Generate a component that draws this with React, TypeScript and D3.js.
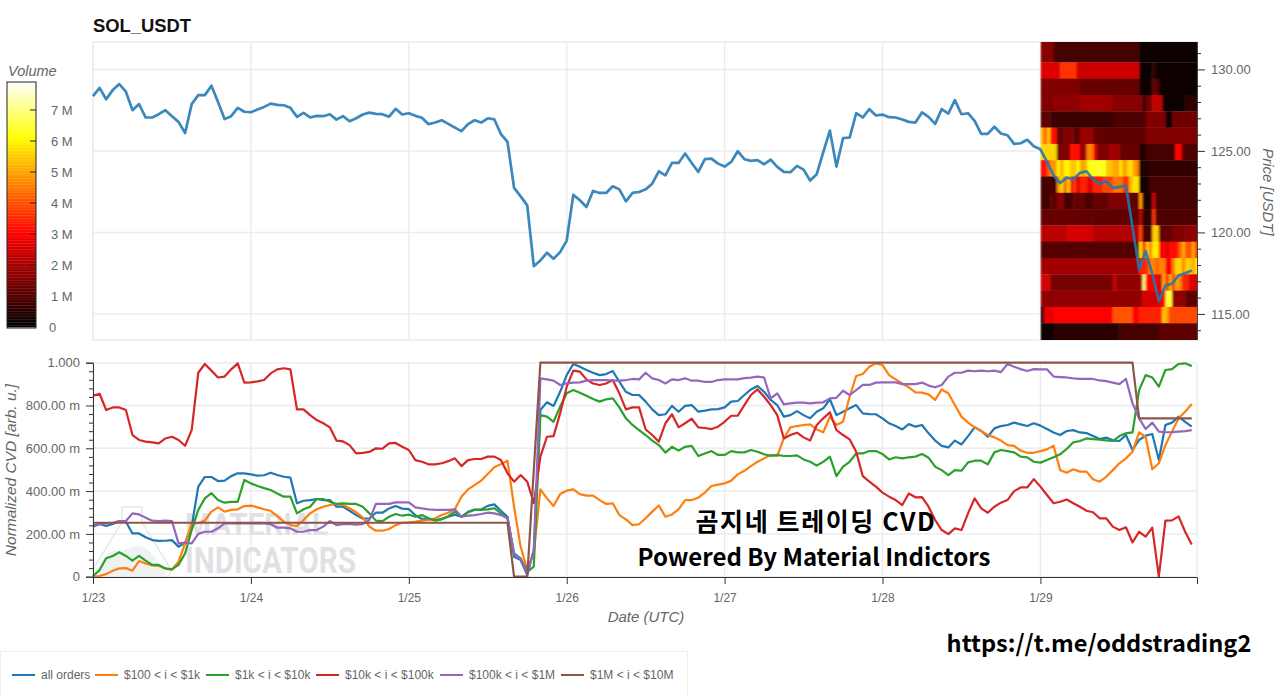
import { useEffect, useRef } from "react";
import * as d3 from "d3";

const FONT = "'Liberation Sans', Arial, sans-serif";
const KR_FONT = "'Noto Sans CJK KR', 'Noto Sans', sans-serif";

const dayLabels = ["1/23", "1/24", "1/25", "1/26", "1/27", "1/28", "1/29"];
const dayHours = [0, 24, 48, 72, 96, 120, 144];

// hourly close, one line per day
const price = [
  128.36, 128.87, 128.17, 128.73, 129.1, 128.63, 127.5, 127.87, 127.05, 127.05, 127.25, 127.5, 127.13, 126.78, 126.1, 127.87, 128.42, 128.42, 129.0, 128.0, 126.95, 127.13, 127.64, 127.4,
  127.37, 127.54, 127.7, 127.9, 127.82, 127.8, 127.64, 127.09, 127.33, 127.05, 127.15, 127.13, 127.25, 126.92, 127.13, 126.82, 127, 127.23, 127.35, 127.27, 127.25, 127.1, 127.58, 127.23,
  127.31, 127.15, 127.03, 126.64, 126.74, 126.88, 126.66, 126.43, 126.21, 126.64, 126.88, 126.74, 127.0, 126.93, 126.03, 125.55, 122.73, 122.21, 121.66, 117.93, 118.28, 118.75, 118.38, 118.79,
  119.5, 122.3, 121.97, 121.56, 122.54, 122.42, 122.42, 122.83, 122.64, 121.9, 122.42, 122.48, 122.64, 122.99, 123.75, 123.5, 124.26, 124.26, 124.84, 124.26, 123.71, 124.49, 124.53, 124.22,
  124.04, 124.32, 124.98, 124.49, 124.39, 124.43, 124.18, 124.47, 124.02, 123.71, 123.69, 124.08, 123.85, 123.18, 123.57, 124.92, 126.25, 124.04, 125.78, 125.82, 127.31, 127.05, 127.56, 127.17,
  127.23, 127.07, 127.05, 126.93, 126.78, 126.74, 127.36, 127.09, 126.66, 127.56, 127.29, 128.11, 127.25, 127.31, 126.84, 126.04, 126.04, 126.48, 126.07, 125.96, 125.43, 125.47, 125.68, 125.29,
  125.1, 124.32, 123.5, 123.03, 123.36, 123.26, 123.65, 123.75, 123.24, 122.99, 123.15, 122.72, 122.79, 122.85, 120.33, 117.7, 118.85, 117.46, 115.78, 116.74, 116.85, 117.36, 117.5, 117.67,
];

const allOrders = [
  0.234, 0.246, 0.237, 0.246, 0.26, 0.257, 0.202, 0.202, 0.184, 0.171, 0.167, 0.168, 0.171, 0.14, 0.159, 0.234, 0.421, 0.466, 0.466, 0.447, 0.449, 0.47, 0.483, 0.483,
  0.478, 0.472, 0.474, 0.486, 0.475, 0.467, 0.463, 0.343, 0.355, 0.358, 0.363, 0.358, 0.358, 0.327, 0.327, 0.308, 0.288, 0.272, 0.272, 0.299, 0.299, 0.319, 0.33, 0.318,
  0.316, 0.287, 0.27, 0.27, 0.265, 0.27, 0.28, 0.29, 0.28, 0.303, 0.314, 0.314, 0.331, 0.338, 0.308, 0.28, 0.093, 0.078, 0.008, 0.125, 0.779, 0.815, 0.798, 0.864,
  0.942, 0.994, 0.981, 0.966, 0.953, 0.942, 0.947, 0.961, 0.911, 0.864, 0.849, 0.849, 0.818, 0.782, 0.755, 0.759, 0.798, 0.771, 0.798, 0.802, 0.771, 0.776, 0.782, 0.783,
  0.791, 0.818, 0.821, 0.849, 0.875, 0.891, 0.864, 0.826, 0.802, 0.748, 0.755, 0.774, 0.755, 0.74, 0.771, 0.787, 0.829, 0.755, 0.771, 0.787, 0.802, 0.763, 0.76, 0.759,
  0.74, 0.717, 0.704, 0.688, 0.713, 0.701, 0.709, 0.67, 0.636, 0.611, 0.604, 0.636, 0.618, 0.657, 0.698, 0.681, 0.654, 0.693, 0.704, 0.709, 0.72, 0.712, 0.704, 0.717,
  0.706, 0.69, 0.674, 0.662, 0.681, 0.685, 0.674, 0.671, 0.657, 0.643, 0.65, 0.637, 0.634, 0.662, 0.592, 0.639, 0.659, 0.667, 0.545, 0.709, 0.72, 0.748, 0.724, 0.701,
];

const from100 = [
  0, 0.003, 0.012, 0.028, 0.039, 0.04, 0.028, 0.073, 0.062, 0.053, 0.051, 0.037, 0.034, 0.07, 0.156, 0.249, 0.25, 0.262, 0.304, 0.324, 0.304, 0.312, 0.315, 0.33,
  0.332, 0.324, 0.315, 0.308, 0.283, 0.257, 0.241, 0.237, 0.265, 0.296, 0.315, 0.327, 0.335, 0.34, 0.335, 0.32, 0.301, 0.277, 0.234, 0.215, 0.215, 0.223, 0.241, 0.252,
  0.254, 0.257, 0.262, 0.265, 0.273, 0.288, 0.299, 0.315, 0.374, 0.408, 0.428, 0.449, 0.48, 0.511, 0.526, 0.542, 0.327, 0.14, 0.031, 0.109, 0.408, 0.366, 0.33, 0.386,
  0.402, 0.408, 0.386, 0.379, 0.379, 0.358, 0.34, 0.343, 0.288, 0.268, 0.241, 0.245, 0.273, 0.304, 0.333, 0.28, 0.291, 0.315, 0.358, 0.358, 0.369, 0.393, 0.424, 0.43,
  0.436, 0.449, 0.478, 0.495, 0.517, 0.537, 0.553, 0.569, 0.564, 0.646, 0.698, 0.704, 0.709, 0.712, 0.688, 0.675, 0.748, 0.709, 0.724, 0.841, 0.938, 0.947, 0.981, 0.997,
  0.989, 0.942, 0.922, 0.903, 0.885, 0.861, 0.86, 0.852, 0.826, 0.875, 0.857, 0.802, 0.748, 0.72, 0.698, 0.681, 0.662, 0.651, 0.636, 0.615, 0.611, 0.589, 0.579, 0.579,
  0.587, 0.595, 0.612, 0.498, 0.486, 0.502, 0.491, 0.491, 0.455, 0.444, 0.467, 0.498, 0.53, 0.553, 0.584, 0.674, 0.654, 0.502, 0.53, 0.615, 0.678, 0.74, 0.771, 0.807,
];

const from1k = [
  0.003, 0.031, 0.086, 0.097, 0.114, 0.097, 0.075, 0.097, 0.075, 0.055, 0.055, 0.039, 0.034, 0.055, 0.109, 0.218, 0.312, 0.366, 0.39, 0.358, 0.346, 0.35, 0.35, 0.452,
  0.436, 0.424, 0.414, 0.405, 0.389, 0.374, 0.374, 0.296, 0.315, 0.327, 0.363, 0.363, 0.35, 0.34, 0.343, 0.34, 0.34, 0.327, 0.296, 0.262, 0.26, 0.28, 0.293, 0.285,
  0.29, 0.28, 0.288, 0.273, 0.262, 0.268, 0.283, 0.304, 0.28, 0.301, 0.312, 0.312, 0.315, 0.32, 0.296, 0.273, 0.109, 0.086, 0.023, 0.047, 0.755, 0.748, 0.724, 0.794,
  0.857, 0.872, 0.86, 0.846, 0.83, 0.818, 0.829, 0.833, 0.791, 0.74, 0.709, 0.685, 0.662, 0.636, 0.615, 0.58, 0.607, 0.589, 0.607, 0.611, 0.564, 0.576, 0.587, 0.569,
  0.569, 0.587, 0.581, 0.581, 0.592, 0.584, 0.572, 0.565, 0.569, 0.564, 0.564, 0.567, 0.548, 0.537, 0.519, 0.537, 0.561, 0.47, 0.514, 0.537, 0.576, 0.576, 0.587, 0.587,
  0.573, 0.548, 0.558, 0.553, 0.558, 0.561, 0.573, 0.556, 0.514, 0.498, 0.475, 0.498, 0.495, 0.534, 0.542, 0.542, 0.525, 0.581, 0.592, 0.587, 0.581, 0.561, 0.558, 0.537,
  0.533, 0.545, 0.558, 0.572, 0.597, 0.628, 0.634, 0.646, 0.643, 0.64, 0.637, 0.634, 0.657, 0.67, 0.674, 0.872, 0.942, 0.931, 0.888, 0.966, 0.97, 0.994, 0.997, 0.984,
];

const from10k = [
  0.846, 0.855, 0.779, 0.791, 0.791, 0.779, 0.662, 0.639, 0.631, 0.628, 0.623, 0.646, 0.654, 0.639, 0.612, 0.685, 0.953, 0.994, 0.963, 0.931, 0.935, 0.969, 0.997, 0.907,
  0.908, 0.913, 0.919, 0.95, 0.969, 0.974, 0.969, 0.782, 0.782, 0.755, 0.732, 0.717, 0.698, 0.636, 0.632, 0.615, 0.576, 0.579, 0.583, 0.6, 0.598, 0.623, 0.625, 0.607,
  0.592, 0.545, 0.537, 0.525, 0.525, 0.53, 0.54, 0.553, 0.517, 0.545, 0.55, 0.55, 0.561, 0.561, 0.545, 0.483, 0.444, 0.475, 0.444, 0.343, 0.561, 0.654, 0.657, 0.763,
  0.888, 0.963, 0.958, 0.922, 0.903, 0.896, 0.903, 0.919, 0.857, 0.782, 0.791, 0.791, 0.688, 0.662, 0.631, 0.717, 0.759, 0.698, 0.717, 0.738, 0.698, 0.695, 0.69, 0.701,
  0.724, 0.752, 0.752, 0.802, 0.849, 0.875, 0.841, 0.802, 0.755, 0.646, 0.662, 0.673, 0.651, 0.636, 0.709, 0.74, 0.768, 0.685, 0.662, 0.642, 0.584, 0.47, 0.444, 0.421,
  0.393, 0.374, 0.358, 0.335, 0.389, 0.371, 0.372, 0.327, 0.265, 0.218, 0.199, 0.226, 0.218, 0.296, 0.366, 0.319, 0.299, 0.327, 0.346, 0.358, 0.4, 0.417, 0.417, 0.456,
  0.421, 0.382, 0.343, 0.35, 0.361, 0.343, 0.327, 0.308, 0.301, 0.273, 0.273, 0.234, 0.218, 0.231, 0.16, 0.21, 0.187, 0.229, 0, 0.262, 0.263, 0.282, 0.21, 0.151,
];

const from100k = [
  0.241, 0.246, 0.249, 0.252, 0.26, 0.26, 0.296, 0.291, 0.276, 0.262, 0.26, 0.262, 0.26, 0.156, 0.159, 0.156, 0.2, 0.21, 0.21, 0.226, 0.249, 0.249, 0.249, 0.249,
  0.249, 0.249, 0.249, 0.246, 0.229, 0.229, 0.226, 0.21, 0.21, 0.218, 0.218, 0.234, 0.26, 0.241, 0.246, 0.246, 0.243, 0.246, 0.265, 0.34, 0.34, 0.34, 0.347, 0.347,
  0.347, 0.324, 0.319, 0.315, 0.312, 0.312, 0.312, 0.315, 0.28, 0.285, 0.288, 0.293, 0.299, 0.296, 0.288, 0.273, 0.109, 0.081, 0.016, 0.125, 0.927, 0.922, 0.916, 0.896,
  0.903, 0.907, 0.908, 0.916, 0.919, 0.919, 0.919, 0.916, 0.916, 0.919, 0.924, 0.922, 0.953, 0.927, 0.919, 0.903, 0.922, 0.919, 0.927, 0.916, 0.916, 0.91, 0.91, 0.919,
  0.922, 0.922, 0.922, 0.928, 0.93, 0.935, 0.931, 0.833, 0.857, 0.805, 0.81, 0.813, 0.813, 0.81, 0.813, 0.815, 0.833, 0.836, 0.869, 0.849, 0.872, 0.896, 0.896, 0.907,
  0.908, 0.908, 0.908, 0.9, 0.9, 0.9, 0.907, 0.893, 0.885, 0.896, 0.935, 0.953, 0.953, 0.963, 0.96, 0.963, 0.96, 0.963, 0.956, 0.994, 0.981, 0.97, 0.961, 0.97,
  0.969, 0.969, 0.935, 0.933, 0.931, 0.927, 0.924, 0.924, 0.924, 0.917, 0.914, 0.907, 0.9, 0.924, 0.81, 0.74, 0.69, 0.72, 0.678, 0.675, 0.676, 0.678, 0.68, 0.685,
];

// the $1M bucket only moves a few times, so just its corners
const from1mHours = [0, 63, 64, 66, 68, 158, 159, 167];
const from1mValues = [0.252, 0.252, 0, 0, 1, 1, 0.74, 0.74];

const seriesNames = ["all orders", "$100 < i < $1k", "$1k < i < $10k", "$10k < i < $100k", "$100k < i < $1M", "$1M < i < $10M"];
const seriesColors = ["#1f77b4", "#ff7f0e", "#2ca02c", "#d62728", "#9467bd", "#8c564b"];

// volume profile of the last day: price bin edges, then [volume in M, half hours] runs per bin
const binEdges = [131.68, 130.43, 129.43, 128.43, 127.43, 126.43, 125.43, 124.43, 123.43, 122.43, 121.43, 120.43, 119.43, 118.43, 117.43, 116.43, 115.43, 114.43, 113.4];
const heatRuns: [number, number][][] = [
  [[1.6, 4], [0.8, 26], [0.12, 18]],
  [[2.6, 6], [3.6, 5], [2.4, 19], [0.15, 4], [0.6, 1], [0.1, 13]],
  [[1.5, 12], [1.2, 18], [0.15, 4], [1.1, 2], [0.1, 12]],
  [[1.5, 4], [1.7, 8], [1.9, 10], [1.6, 9], [0.5, 1], [1.4, 2], [2.3, 3], [0.15, 7], [0.5, 4]],
  [[1.1, 3], [0.7, 19], [0.9, 10], [1.5, 6], [0.15, 2], [1.3, 8]],
  [[5.2, 1], [4.2, 1], [5.4, 1], [3.2, 2], [1.1, 2], [1.5, 3], [1.1, 2], [1.8, 4], [1.2, 3], [1.1, 13], [1.5, 16]],
  [[5.6, 5], [1.1, 1], [1.5, 3], [3.1, 3], [1.8, 2], [4.6, 2], [3, 1], [1.5, 4], [1.9, 3], [1.2, 6], [0.4, 2], [0.8, 9], [3, 2], [0.9, 5]],
  [[3.2, 2], [4, 1], [4.8, 2], [6, 1], [5, 1], [6, 2], [5.4, 2], [6, 1], [5, 2], [6, 1], [6.3, 5], [5.4, 2], [5, 2], [5.8, 1], [4.8, 1], [5.4, 1], [5.8, 1], [5, 1], [4.6, 1], [0.4, 3], [0.6, 15]],
  [[0.8, 5], [4.8, 1], [5.6, 1], [4.2, 1], [5.5, 1], [3.2, 1], [3.6, 1], [2.6, 1], [3.4, 2], [2.8, 2], [3.4, 3], [3.9, 3], [4.4, 3], [3.6, 2], [5.2, 1], [5.8, 2], [0.3, 3], [0.8, 15]],
  [[0.8, 3], [1.1, 2], [1.6, 2], [0.8, 3], [1.2, 3], [0.9, 3], [1.2, 5], [1.5, 6], [1.1, 3], [4.8, 1], [0.35, 3], [2.4, 1], [0.8, 13]],
  [[1.2, 16], [1.1, 14], [2.2, 1], [0.5, 3], [3.6, 1], [0.9, 13]],
  [[2.2, 8], [2.5, 8], [2.1, 14], [3.8, 1], [0.9, 3], [5.5, 2], [1.2, 4], [1.5, 4], [1.7, 4]],
  [[1, 30], [5.7, 1], [3.4, 1], [5.5, 1], [4.6, 1], [5.9, 2], [3, 2], [2.6, 1], [3.2, 3], [4.2, 1], [5, 1], [4, 2], [5, 1], [3.6, 1]],
  [[1.9, 30], [3.4, 2], [3.7, 1], [4.6, 2], [4.2, 1], [4.6, 2], [3, 2], [4.6, 1], [5.6, 2], [4.6, 1], [5.5, 2], [5, 1], [5.8, 1]],
  [[2.5, 3], [1.4, 19], [2.4, 1], [1.7, 8], [7, 1], [3, 4], [2.4, 1], [5, 1], [3.6, 1], [5, 1], [3.8, 1], [5, 1], [4.6, 1], [3.4, 2], [2.6, 3]],
  [[1.7, 31], [2.5, 5], [2.9, 2], [6.5, 2], [1.7, 4], [1.1, 4]],
  [[0.3, 1], [2.7, 3], [3, 18], [4, 6], [3, 2], [3.4, 7], [5.4, 1], [5, 1], [3.9, 9]],
  [[0.1, 4], [0.5, 20], [0.8, 12], [1.1, 12]],
];

const priceTicks = [115, 120, 125, 130];
const priceMinorTicks = [114, 116, 117, 118, 119, 121, 122, 123, 124, 126, 127, 128, 129, 131];
const cvdTicks = [0, 0.2, 0.4, 0.6, 0.8, 1];
const cvdLabels = ["0", "200.00 m", "400.00 m", "600.00 m", "800.00 m", "1.000"];
const cvdMinorTicks = [0.04, 0.08, 0.12, 0.16, 0.24, 0.28, 0.32, 0.36, 0.44, 0.48, 0.52, 0.56, 0.64, 0.68, 0.72, 0.76, 0.84, 0.88, 0.92, 0.96];
const volumeTicks = [0, 1, 2, 3, 4, 5, 6, 7];
const volumeLabels = ["0", "1 M", "2 M", "3 M", "4 M", "5 M", "6 M", "7 M"];

const GRID = "#ececec";
const TEXT = "#666";

function styleAxis(g: d3.Selection<SVGGElement, unknown, null, undefined>) {
  g.selectAll("text").attr("fill", TEXT).attr("font-size", 13).attr("font-family", FONT);
  g.selectAll("line").attr("stroke", "#333");
  g.select(".domain").attr("stroke", "#333");
}

export default function App() {
  const ref = useRef<SVGSVGElement>(null);

  useEffect(() => {
    const svg = d3.select(ref.current!);
    svg.selectAll("*").remove();

    const left = 93;
    const right = 1197;
    const x = d3.scaleLinear().domain([0, 167.8]).range([left, right]);
    const yPrice = d3.scaleLinear().domain([113.4, 131.68]).range([340, 42]);
    const yCvd = d3.scaleLinear().domain([0, 1]).range([576.7, 362.7]);
    const heatColor = d3
      .scaleLinear<string>()
      .domain([0, 3, 6.1, 7.9])
      .range(["#000000", "#ff0000", "#ffff00", "#ffffff"]);

    const defs = svg.append("defs");
    defs
      .append("clipPath")
      .attr("id", "price-clip")
      .append("rect")
      .attr("x", x(144))
      .attr("y", 42)
      .attr("width", right - x(144))
      .attr("height", 298);
    defs
      .append("filter")
      .attr("id", "heat-soft")
      .attr("x", "-5%")
      .attr("y", "-5%")
      .attr("width", "110%")
      .attr("height", "110%")
      .append("feGaussianBlur")
      .attr("stdDeviation", "0.8 0.5");

    // title
    svg
      .append("text")
      .attr("x", 93)
      .attr("y", 32)
      .attr("font-family", FONT)
      .attr("font-weight", "bold")
      .attr("font-size", 18.4)
      .attr("fill", "#111")
      .text("SOL_USDT");

    // price panel grid
    const top = svg.append("g");
    top
      .append("rect")
      .attr("x", left)
      .attr("y", 42)
      .attr("width", right - left)
      .attr("height", 298)
      .attr("fill", "none")
      .attr("stroke", GRID)
      .attr("stroke-width", 1.5);
    top
      .selectAll(".gx")
      .data(dayHours)
      .join("line")
      .attr("x1", (d) => x(d))
      .attr("x2", (d) => x(d))
      .attr("y1", 42)
      .attr("y2", 340)
      .attr("stroke", GRID)
      .attr("stroke-width", 1.5);
    top
      .selectAll(".gy")
      .data(priceTicks)
      .join("line")
      .attr("x1", left)
      .attr("x2", right)
      .attr("y1", (d) => yPrice(d))
      .attr("y2", (d) => yPrice(d))
      .attr("stroke", GRID)
      .attr("stroke-width", 1.5);

    // heatmap
    const cells = heatRuns.flatMap((runs, row) => {
      let col = 0;
      return runs.map(([value, count]) => {
        const cell = { row, col, count, value };
        col += count;
        return cell;
      });
    });
    svg
      .append("g")
      .attr("clip-path", "url(#price-clip)")
      .append("g")
      .attr("filter", "url(#heat-soft)")
      .selectAll("rect")
      .data(cells)
      .join("rect")
      .attr("x", (d) => x(144 + d.col * 0.5))
      .attr("width", (d) => x(d.count * 0.5) - x(0) + 0.4)
      .attr("y", (d) => yPrice(binEdges[d.row]))
      .attr("height", (d) => yPrice(binEdges[d.row + 1]) - yPrice(binEdges[d.row]) + 0.3)
      .attr("fill", (d) => heatColor(d.value));

    // price line
    const line = d3
      .line<number>()
      .x((_, i) => x(i))
      .y((d) => yPrice(d));
    svg
      .append("path")
      .attr("d", line(price))
      .attr("fill", "none")
      .attr("stroke", "#1f77b4")
      .attr("stroke-opacity", 0.88)
      .attr("stroke-width", 2.7)
      .attr("stroke-linejoin", "round");

    // price axis
    const priceAxis = svg
      .append("g")
      .attr("transform", `translate(${right},0)`)
      .call(
        d3
          .axisRight(yPrice)
          .tickValues(priceTicks)
          .tickSize(8)
          .tickPadding(6)
          .tickFormat((d) => d3.format(".2f")(d as number)),
      );
    styleAxis(priceAxis);
    priceAxis.select(".domain").attr("d", "M0.5,42V340").attr("stroke", "#444");
    const priceMinor = svg
      .append("g")
      .attr("transform", `translate(${right},0)`)
      .call(d3.axisRight(yPrice).tickValues(priceMinorTicks).tickSize(4).tickFormat(() => ""));
    priceMinor.select(".domain").remove();
    priceMinor.selectAll("line").attr("stroke", "#333");
    svg
      .append("text")
      .attr("transform", "translate(1263,192) rotate(90)")
      .attr("text-anchor", "middle")
      .attr("font-family", FONT)
      .attr("font-style", "italic")
      .attr("font-size", 15)
      .attr("fill", TEXT)
      .text("Price [USDT]");

    // colour bar
    const yVolume = d3.scaleLinear().domain([0, 7]).range([327, 110]);
    const volumeSteps = d3.range(0, 7.95, 0.05);
    const bar = svg.append("g");
    bar
      .selectAll("rect")
      .data(volumeSteps)
      .join("rect")
      .attr("x", 7)
      .attr("width", 29)
      .attr("y", (d) => yVolume(d + 0.05))
      .attr("height", yVolume(0) - yVolume(0.06))
      .attr("fill", (d) => heatColor(d));
    bar
      .append("rect")
      .attr("x", 7)
      .attr("y", 82)
      .attr("width", 29)
      .attr("height", 246)
      .attr("fill", "none")
      .attr("stroke", "#222")
      .attr("stroke-width", 1);
    bar
      .selectAll(".vtick")
      .data(volumeTicks.slice(1))
      .join("line")
      .attr("x1", 30)
      .attr("x2", 36)
      .attr("y1", (d) => yVolume(d))
      .attr("y2", (d) => yVolume(d))
      .attr("stroke", "#222");
    bar
      .selectAll(".vlabel")
      .data(volumeTicks)
      .join("text")
      .attr("x", (d) => (d === 0 ? 49 : 51))
      .attr("y", (d) => yVolume(d) + 5)
      .attr("font-family", FONT)
      .attr("font-size", 13)
      .attr("fill", TEXT)
      .text((_, i) => volumeLabels[i]);
    svg
      .append("text")
      .attr("x", 8)
      .attr("y", 76)
      .attr("font-family", FONT)
      .attr("font-style", "italic")
      .attr("font-size", 14.5)
      .attr("fill", TEXT)
      .text("Volume");

    // CVD panel grid
    const bottom = svg.append("g");
    bottom
      .selectAll(".gx")
      .data(dayHours)
      .join("line")
      .attr("x1", (d) => x(d))
      .attr("x2", (d) => x(d))
      .attr("y1", 363)
      .attr("y2", 577)
      .attr("stroke", GRID)
      .attr("stroke-width", 1.5);
    bottom
      .selectAll(".gy")
      .data(cvdTicks)
      .join("line")
      .attr("x1", left)
      .attr("x2", right)
      .attr("y1", (d) => yCvd(d))
      .attr("y2", (d) => yCvd(d))
      .attr("stroke", GRID)
      .attr("stroke-width", 1.5);
    bottom
      .append("line")
      .attr("x1", right)
      .attr("x2", right)
      .attr("y1", 363)
      .attr("y2", 577)
      .attr("stroke", GRID)
      .attr("stroke-width", 1.5);

    // watermark
    const mark = svg.append("g");
    mark
      .append("path")
      .attr("d", "M122 507 L142 507 L142 522 L170 568 Q173 577 163 577 L100 577 Q90 577 95 566 L122 522 Z")
      .attr("fill", "none")
      .attr("stroke", "#e6e8ea")
      .attr("stroke-width", 1.5);
    mark
      .append("path")
      .attr("d", "M97 570 Q108 545 122 552 Q138 540 150 552 L166 572 Q168 576 160 576 L100 576 Z")
      .attr("fill", "#eef2f3");
    mark
      .append("text")
      .attr("x", 185)
      .attr("y", 535)
      .attr("textLength", 143)
      .attr("lengthAdjust", "spacingAndGlyphs")
      .attr("font-family", "Roboto, sans-serif")
      .attr("font-weight", "bold")
      .attr("font-size", 32)
      .attr("fill", "#dfe2e5")
      .text("MATERIAL");
    mark
      .append("text")
      .attr("x", 185)
      .attr("y", 573)
      .attr("textLength", 171)
      .attr("lengthAdjust", "spacingAndGlyphs")
      .attr("font-family", "Roboto, sans-serif")
      .attr("font-weight", "bold")
      .attr("font-size", 36)
      .attr("fill", "#dfe2e5")
      .text("INDICATORS");

    // CVD lines
    const cvdSeries = [allOrders, from100, from1k, from10k, from100k];
    const cvdLine = d3
      .line<number>()
      .x((_, i) => x(i))
      .y((d) => yCvd(d));
    svg
      .append("g")
      .selectAll("path")
      .data(cvdSeries)
      .join("path")
      .attr("d", (d) => cvdLine(d))
      .attr("fill", "none")
      .attr("stroke", (_, i) => seriesColors[i])
      .attr("stroke-width", 2.2)
      .attr("stroke-linejoin", "round");
    const stepLine = d3
      .line<number>()
      .x((_, i) => x(from1mHours[i]))
      .y((d) => yCvd(d));
    svg
      .append("path")
      .attr("d", stepLine(from1mValues))
      .attr("fill", "none")
      .attr("stroke", seriesColors[5])
      .attr("stroke-width", 2.2)
      .attr("stroke-linejoin", "round");

    // CVD axes
    const cvdAxis = svg
      .append("g")
      .attr("transform", `translate(${left},0)`)
      .call(
        d3
          .axisLeft(yCvd)
          .tickValues(cvdTicks)
          .tickSize(7)
          .tickPadding(6)
          .tickFormat((_, i) => cvdLabels[i]),
      );
    styleAxis(cvdAxis);
    const cvdMinor = svg
      .append("g")
      .attr("transform", `translate(${left},0)`)
      .call(d3.axisLeft(yCvd).tickValues(cvdMinorTicks).tickSize(4).tickFormat(() => ""));
    cvdMinor.select(".domain").remove();
    cvdMinor.selectAll("line").attr("stroke", "#333");
    const dateAxis = svg
      .append("g")
      .attr("transform", "translate(0,577)")
      .call(
        d3
          .axisBottom(x)
          .tickValues(dayHours)
          .tickSize(7)
          .tickPadding(9)
          .tickFormat((_, i) => dayLabels[i]),
      );
    styleAxis(dateAxis);
    dateAxis.selectAll("text").attr("font-size", 12);
    svg
      .append("text")
      .attr("x", 646)
      .attr("y", 622)
      .attr("text-anchor", "middle")
      .attr("font-family", FONT)
      .attr("font-style", "italic")
      .attr("font-size", 15)
      .attr("fill", TEXT)
      .text("Date (UTC)");
    svg
      .append("text")
      .attr("transform", "translate(16,470) rotate(-90)")
      .attr("text-anchor", "middle")
      .attr("font-family", FONT)
      .attr("font-style", "italic")
      .attr("font-size", 15.5)
      .attr("fill", TEXT)
      .text("Normalized CVD [arb. u.]");

    // overlay captions
    const captions = [
      { text: "곰지네 트레이딩 CVD", x: 816, y: 531, size: 25, spacing: 1.6 },
      { text: "Powered By Material Indictors", x: 814, y: 566, size: 24, spacing: 0 },
      { text: "https://t.me/oddstrading2", x: 1099, y: 652, size: 23.6, spacing: 0 },
    ];
    svg
      .append("g")
      .selectAll("text")
      .data(captions)
      .join("text")
      .attr("x", (d) => d.x)
      .attr("y", (d) => d.y)
      .attr("text-anchor", "middle")
      .attr("font-family", KR_FONT)
      .attr("font-weight", "bold")
      .attr("font-size", (d) => d.size)
      .attr("letter-spacing", (d) => d.spacing)
      .attr("fill", "#000")
      .text((d) => d.text);

    // legend
    const legend = svg.append("g");
    legend
      .append("rect")
      .attr("x", 0.5)
      .attr("y", 651.5)
      .attr("width", 687)
      .attr("height", 44)
      .attr("fill", "#fff")
      .attr("stroke", "#eee");
    const legendStarts = [12, 95, 206, 316, 440, 561];
    seriesNames.forEach((name, i) => {
      legend
        .append("line")
        .attr("x1", legendStarts[i])
        .attr("x2", legendStarts[i] + 23)
        .attr("y1", 675)
        .attr("y2", 675)
        .attr("stroke", seriesColors[i])
        .attr("stroke-width", 2);
      legend
        .append("text")
        .attr("x", legendStarts[i] + 29)
        .attr("y", 679)
        .attr("font-family", FONT)
        .attr("font-size", 12)
        .attr("fill", TEXT)
        .text(name);
    });
  }, []);

  return (
    <svg
      ref={ref}
      width={1280}
      height={695}
      style={{ position: "absolute", left: 0, top: 0, background: "#fff", display: "block" }}
    />
  );
}
